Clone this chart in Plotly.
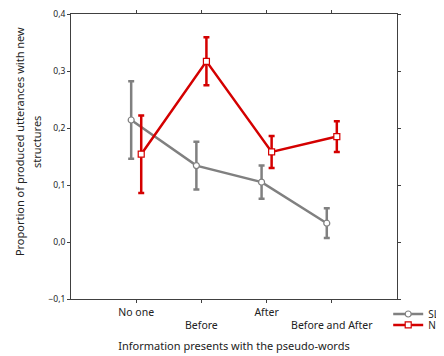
import plotly.graph_objects as go

categories = ["No one", "Before", "After", "Before and After"]
tick_labels = ["No one", "<br>Before", "After", "<br>Before and After"]
sl_values = [0.214, 0.134, 0.105, 0.033]
sl_errors = [0.068, 0.042, 0.029, 0.026]
nl_values = [0.154, 0.317, 0.158, 0.185]
nl_errors = [0.068, 0.042, 0.028, 0.027]

GRAY = "#808080"
RED = "#d40000"
off = 0.077
xs = list(range(len(categories)))

fig = go.Figure()
fig.add_trace(go.Scatter(
    x=[i - off for i in xs], y=sl_values, name="SL", mode="lines+markers",
    line=dict(color=GRAY, width=2.5),
    marker=dict(symbol="circle", size=6, color="white", line=dict(color=GRAY, width=1.2)),
    error_y=dict(type="data", array=sl_errors, color=GRAY, thickness=2.5, width=3),
    legend="legend", showlegend=True,
))
fig.add_trace(go.Scatter(
    x=[i + off for i in xs], y=nl_values, name="NL", mode="lines+markers",
    line=dict(color=RED, width=2.5),
    marker=dict(symbol="square", size=6, color="white", line=dict(color=RED, width=1.2)),
    error_y=dict(type="data", array=nl_errors, color=RED, thickness=2.5, width=3),
    legend="legend2", showlegend=True,
))

axis_common = dict(showline=True, linecolor="#404040", linewidth=1, mirror="ticks",
                   ticks="outside", ticklen=3, tickcolor="#404040", showgrid=False, zeroline=False)

fig.update_layout(
    width=436, height=348,
    margin=dict(l=63, r=47, t=6, b=57, autoexpand=False),
    paper_bgcolor="white", plot_bgcolor="white",
    separators=",.",
    showlegend=True,
    font=dict(family="Noto Sans", size=11, color="#222"),
    xaxis=dict(range=[-1, 4], tickvals=xs, ticktext=tick_labels,
               tickfont=dict(size=10.5), automargin=False,
               title=dict(text="Information presents with the pseudo-words", font=dict(size=11), standoff=11),
               **axis_common),
    yaxis=dict(range=[-0.1, 0.4], dtick=0.1, tickformat=".1f",
               tickfont=dict(size=8.5), automargin=False, ticklabeloverflow="allow",
               **axis_common),
    annotations=[
        dict(text="Proportion of produced utterances with new", xref="paper", yref="paper",
             x=-0.156, y=0.551, xanchor="center", yanchor="middle", textangle=-90,
             showarrow=False, font=dict(size=11)),
        dict(text="structures", xref="paper", yref="paper",
             x=-0.104, y=0.551, xanchor="center", yanchor="middle", textangle=-90,
             showarrow=False, font=dict(size=11)),
    ],
    legend=dict(x=0.973, y=-0.0526, xanchor="left", yanchor="middle", bgcolor="rgba(0,0,0,0)",
                font=dict(size=10), itemwidth=30),
    legend2=dict(x=0.973, y=-0.091, xanchor="left", yanchor="middle", bgcolor="rgba(0,0,0,0)",
                 font=dict(size=10), itemwidth=30),
)

fig.write_html("out.html")
